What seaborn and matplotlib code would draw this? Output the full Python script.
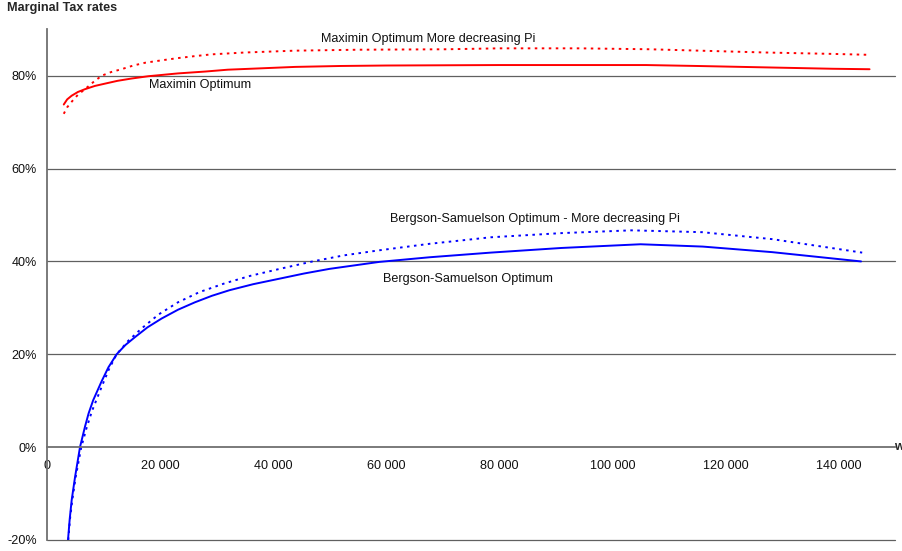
import pandas as pd
import seaborn as sns
import numpy as np
import matplotlib.pyplot as plt
from matplotlib.ticker import FuncFormatter, FixedLocator
import matplotlib.transforms as mtransforms

# values (wage w, marginal tax rate in %)
maximin_w = [3000, 3600, 4400, 5500, 6750, 8500, 10300, 12500, 15000, 18000, 23200,
             28000, 32000, 38000, 43900, 52000, 60000, 80000, 95000, 106000, 115000,
             127000, 139000, 145500]
maximin_rate = [73.8, 74.9, 75.7, 76.5, 77.1, 77.8, 78.3, 78.9, 79.4, 79.9, 80.5,
                80.9, 81.3, 81.6, 81.9, 82.1, 82.2, 82.3, 82.3, 82.3, 82.1,
                81.8, 81.5, 81.4]

maximin_dec_w = [3000, 3600, 4400, 5500, 6750, 8200, 9700, 11400, 13200, 15300, 17400,
                 20200, 23200, 26000, 29100, 35000, 43900, 55000, 70700, 80000, 94200,
                 106600, 115400, 127200, 139000, 145500]
maximin_dec_rate = [71.8, 73.2, 74.4, 75.9, 77.1, 78.6, 80.0, 80.8, 81.4, 82.2, 82.8,
                    83.3, 83.8, 84.2, 84.6, 85.0, 85.4, 85.6, 85.7, 85.9, 85.9,
                    85.7, 85.4, 85.0, 84.7, 84.5]

bs_w = [3750, 4050, 4400, 5000, 5870, 6750, 7400, 8200, 9700, 10900, 12350, 13900,
        15600, 17800, 20300, 23200, 26200, 29200, 32300, 36500, 41200, 45500, 50000,
        58800, 67700, 78500, 91000, 105000, 116000, 128300, 144000]
bs_rate = [-20.0, -15.5, -11.4, -6.4, 0.0, 4.4, 7.3, 10.1, 14.2, 17.2, 20.0, 22.0,
           23.7, 25.8, 27.7, 29.6, 31.2, 32.6, 33.8, 35.1, 36.3, 37.4, 38.4,
           39.9, 40.9, 41.9, 42.9, 43.7, 43.2, 42.0, 40.0]

bs_dec_w = [3800, 4100, 4500, 5100, 6100, 7000, 8000, 9800, 11000, 12350, 14400,
            16800, 19800, 23200, 27000, 31500, 36000, 41200, 47000, 52500, 58800,
            67700, 78500, 91000, 103400, 115900, 128300, 144200]
bs_dec_rate = [-20.0, -15.5, -11.5, -6.5, 0.0, 4.0, 7.8, 13.3, 16.8, 20.0, 22.9,
               25.6, 28.6, 31.2, 33.4, 35.3, 36.9, 38.4, 40.0, 41.3, 42.4,
               43.8, 45.2, 46.1, 46.7, 46.3, 44.8, 41.9]

x_ticks = [0, 20000, 40000, 60000, 80000, 100000, 120000, 140000]
y_ticks = [-20, 0, 20, 40, 60, 80]

sns.set_style("white")
plt.rcParams['font.family'] = ['Liberation Sans', 'DejaVu Sans']

fig = plt.figure(figsize=(9.03, 5.51), dpi=100)
ax = fig.add_axes([46.8 / 903, 11 / 551, (895 - 46.8) / 903, (540 - 29.3) / 551])

dots = (0, (1.3, 2.3))
sns.lineplot(x=maximin_w, y=maximin_rate, ax=ax, color='#ff0000', lw=1.4, sort=False)
sns.lineplot(x=maximin_dec_w, y=maximin_dec_rate, ax=ax, color='#ff0000', lw=1.4,
             linestyle=dots, sort=False)
sns.lineplot(x=bs_w, y=bs_rate, ax=ax, color='#0000ff', lw=1.4, sort=False)
sns.lineplot(x=bs_dec_w, y=bs_dec_rate, ax=ax, color='#0000ff', lw=1.4,
             linestyle=dots, sort=False)

ax.set_xlim(0, 150000)
ax.set_ylim(-20, 90)

# gridlines
for yv in [80, 60, 40, 20, -20]:
    ax.axhline(yv, color='#606060', lw=0.9, zorder=0, clip_on=False)

for s in ['top', 'right']:
    ax.spines[s].set_visible(False)
ax.spines['bottom'].set_position(('data', 0))
ax.spines['bottom'].set_color('#707070')
ax.spines['bottom'].set_linewidth(1.3)
ax.spines['left'].set_color('#707070')
ax.spines['left'].set_linewidth(1.3)

ax.xaxis.set_major_locator(FixedLocator(x_ticks))
ax.yaxis.set_major_locator(FixedLocator(y_ticks))
ax.xaxis.set_major_formatter(FuncFormatter(lambda v, p: f'{int(v):,}'.replace(',', ' ')))
ax.yaxis.set_major_formatter(FuncFormatter(lambda v, p: f'{int(v)}%'))
ax.tick_params(axis='x', direction='out', length=2.5, width=0.8, color='#202020',
               labelsize=9.1, pad=7, labelcolor='#111111')
ax.tick_params(axis='y', direction='out', length=3, width=0.8, color='#202020',
               labelsize=9.1, pad=4.3, labelcolor='#111111')
ax.set_xlabel('')
ax.set_ylabel('')

# series labels
ax.text(48570, 87.9, 'Maximin Optimum More decreasing Pi', fontsize=9.1, ha='left', va='center', color='#111111')
ax.text(18060, 78.0, 'Maximin Optimum', fontsize=9.1, ha='left', va='center', color='#111111')
ax.text(60700, 49.2, 'Bergson-Samuelson Optimum - More decreasing Pi', fontsize=9.1, ha='left', va='center', color='#111111')
ax.text(59490, 36.3, 'Bergson-Samuelson Optimum', fontsize=9.1, ha='left', va='center', color='#111111')

trans = mtransforms.blended_transform_factory(ax.transAxes, ax.transData)
ax.text(0.999, 0, 'w', transform=trans, fontsize=9.1, fontweight='bold', ha='left', va='center', clip_on=False)

fig.text(7 / 903, 1 - 8 / 551, 'Marginal Tax rates', fontsize=9.1, fontweight='bold', ha='left', va='center')

fig.savefig('out.png', dpi=100)
